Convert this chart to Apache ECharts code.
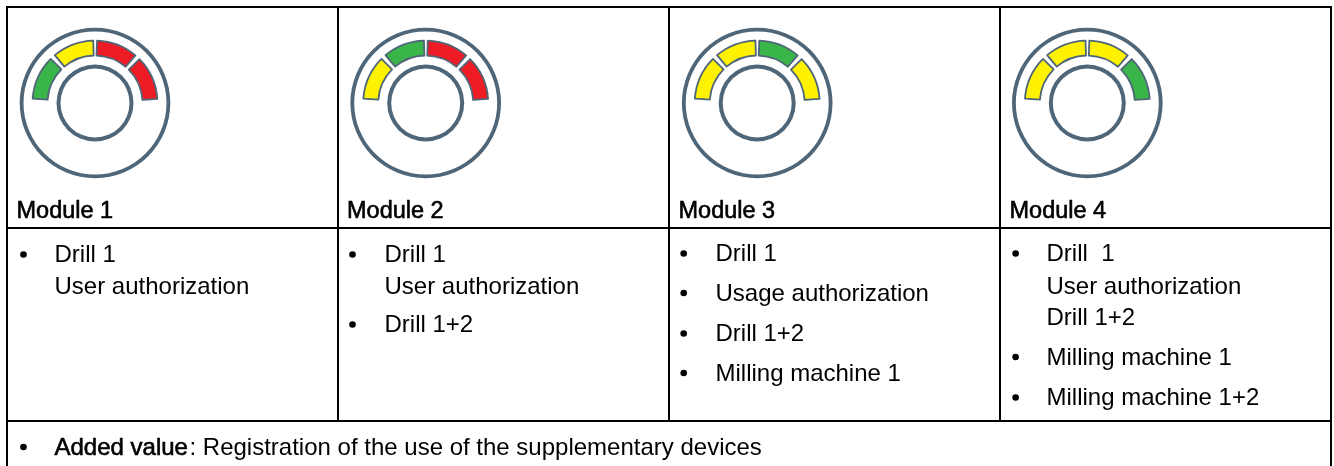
<!DOCTYPE html>
<html><head><meta charset="utf-8">
<style>html,body{margin:0;padding:0;background:#fff}#c{width:1334px;height:466px}</style>
<script src="https://cdn.jsdelivr.net/npm/echarts@6/dist/echarts.min.js"></script></head>
<body><div id="c"></div>
<script>
const moduleNames = ['Module 1','Module 2','Module 3','Module 4'];
// gauge arc sweep in degrees: four zones with the gaps between them, then the open lower part
const zoneSweep = [41,38.5,38.5,41];
const gapSweep = [5,3.5,5];
const openSweep = 188;
const module1Zones = ['green','yellow','red','red'];
const module2Zones = ['yellow','green','red','red'];
const module3Zones = ['yellow','yellow','green','yellow'];
const module4Zones = ['yellow','yellow','yellow','green'];
const module1Items = [['Drill 1','User authorization']];
const module2Items = [['Drill 1','User authorization'],['Drill 1+2']];
const module3Items = [['Drill 1'],['Usage authorization'],['Drill 1+2'],['Milling machine 1']];
const module4Items = [['Drill  1','User authorization','Drill 1+2'],['Milling machine 1'],['Milling machine 1+2']];
const footerBold = 'Added value';
const footerText = ': Registration of the use of the supplementary devices';

const zones = [module1Zones,module2Zones,module3Zones,module4Zones];
const items = [module1Items,module2Items,module3Items,module4Items];
const palette = {green:'#39b54a',yellow:'#fff200',red:'#ed1c24'};
const ink = '#4f6679';
const font = '"Liberation Sans", Arial, sans-serif';
const colX = [7,338,669,1000,1331];
const rowY = [7,228,421,466];
const iconX = [95,425.7,757.2,1087.3];
const iconY = 103;
const headX = [16.5,347,678.5,1009.5];
const textX = [54.5,384.5,715.5,1046.5];
const bulletX = [23.5,352.5,683.7,1015.6];
const textSize = 24;
const headSize = 23.5;
const textYs = [
  [[255.5,287.5]],
  [[255.5,287.5],[325.5]],
  [[254.5],[294],[334.5],[374]],
  [[254.5,287,318.5],[358],[398.5]]
];

const series = [];
iconX.forEach((cx,i)=>{
  const slices = [];
  zoneSweep.forEach((v,k)=>{
    slices.push({value:v,itemStyle:{color:palette[zones[i][k]]}});
    if(k<gapSweep.length) slices.push({value:gapSweep[k],itemStyle:{color:'transparent',borderWidth:0}});
  });
  slices.push({value:openSweep,itemStyle:{color:'transparent',borderWidth:0}});
  series.push({type:'pie',silent:true,center:[cx,iconY],radius:[47.5,62.5],startAngle:176,label:{show:false},labelLine:{show:false},
    itemStyle:{borderColor:ink,borderWidth:1.8},data:slices});
  series.push({type:'pie',silent:true,center:[cx,iconY],radius:[71.5,75.3],label:{show:false},labelLine:{show:false},itemStyle:{color:ink},data:[1]});
  series.push({type:'pie',silent:true,center:[cx,iconY],radius:[34.5,38.5],label:{show:false},labelLine:{show:false},itemStyle:{color:ink},data:[1]});
});

const g = [];
const line=(x1,y1,x2,y2)=>g.push({type:'line',shape:{x1,y1,x2,y2},style:{stroke:'#000',lineWidth:2}});
rowY.slice(0,3).forEach(y=>line(colX[0]-1,y,colX[4]+1,y));
colX.forEach((x,i)=>{ if(i===0||i===4) line(x,rowY[0],x,rowY[3]); else line(x,rowY[0],x,rowY[2]); });
const text=(x,y,t,size,extra)=>g.push({type:'text',x,y,style:Object.assign({text:t,fill:'#000',font:size+'px '+font,textVerticalAlign:'middle'},extra||{})});
const bullet=(x,y)=>g.push({type:'circle',shape:{cx:x,cy:y,r:3.3},style:{fill:'#000'}});
moduleNames.forEach((n,i)=>text(headX[i],212,n,headSize,{stroke:'#000',lineWidth:0.6}));
items.forEach((list,i)=>{
  list.forEach((lines,j)=>{
    bullet(bulletX[i],textYs[i][j][0]-1);
    lines.forEach((t,k)=>text(textX[i],textYs[i][j][k],t,textSize));
  });
});
bullet(bulletX[0],447);
text(textX[0],448,footerBold,textSize,{stroke:'#000',lineWidth:0.6});
text(textX[0]+135,448,footerText,textSize);

const chart = echarts.init(document.getElementById('c'),null,{renderer:'canvas'});
chart.setOption({animation:false,backgroundColor:'#fff',series,graphic:g});
</script></body></html>
